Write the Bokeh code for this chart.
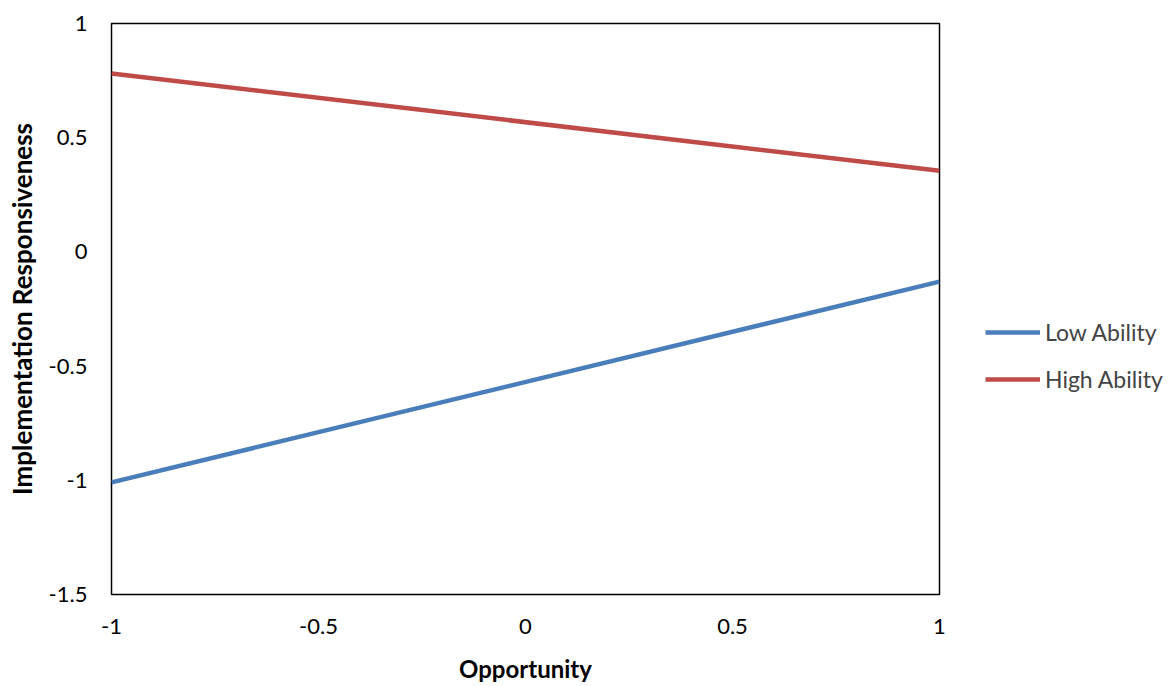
from bokeh.plotting import figure
from bokeh.models import Range1d, FixedTicker, Legend, LegendItem
from bokeh.embed import file_html
from bokeh.resources import INLINE

opportunity = [-1, 1]
low_ability = [-1.009, -0.130]
high_ability = [0.781, 0.355]
x_ticks = [-1, -0.5, 0, 0.5, 1]
y_ticks = [-1.5, -1, -0.5, 0, 0.5, 1]

FONT = "Lato"

p = figure(width=1156, height=670, output_backend="svg", toolbar_location=None,
           x_range=Range1d(-1, 1), y_range=Range1d(-1.5, 1),
           min_border_left=111, min_border_right=217, min_border_top=23, min_border_bottom=76)
p.frame_width = 828
p.frame_height = 571

p.xgrid.visible = False
p.ygrid.visible = False
p.outline_line_color = "black"
p.outline_line_width = 1.5

for ax in (p.xaxis[0], p.yaxis[0]):
    ax.axis_line_color = None
    ax.major_tick_out = 0
    ax.major_tick_in = 0
    ax.minor_tick_out = 0
    ax.minor_tick_in = 0
    ax.major_label_text_font = FONT
    ax.major_label_text_font_size = "22px"
    ax.major_label_text_color = "black"
    ax.axis_label_text_font = FONT
    ax.axis_label_text_font_style = "bold"
    ax.axis_label_text_color = "black"

p.xaxis.axis_label_text_font_size = "24px"
p.yaxis.axis_label_text_font_size = "26px"
p.xaxis.ticker = FixedTicker(ticks=x_ticks)
p.yaxis.ticker = FixedTicker(ticks=y_ticks)
p.xaxis.major_label_overrides = {-1: "-1", -0.5: "-0.5", 0: "0", 0.5: "0.5", 1: "1"}
p.yaxis.major_label_overrides = {-1.5: "-1.5", -1: "-1", -0.5: "-0.5", 0: "0", 0.5: "0.5", 1: "1"}
p.xaxis.major_label_standoff = 24
p.yaxis.major_label_standoff = 24
p.xaxis.axis_label = "Opportunity"
p.yaxis.axis_label = "Implementation Responsiveness"
p.xaxis.axis_label_standoff = 17
p.yaxis.axis_label_standoff = 8

r_low = p.line(opportunity, low_ability, line_color="#4A7EBB", line_width=4.5)
r_high = p.line(opportunity, high_ability, line_color="#BE4B48", line_width=4.5)

legend = Legend(items=[LegendItem(label="Low Ability", renderers=[r_low]),
                       LegendItem(label="High Ability", renderers=[r_high])],
                location=(46, 201), padding=0, margin=0, spacing=19,
                glyph_width=55, glyph_height=20, label_height=20, label_standoff=5,
                label_text_font=FONT, label_text_font_size="23px",
                border_line_color=None, background_fill_alpha=0)
p.add_layout(legend, "right")

open("out.html", "w").write(file_html(p, INLINE))
